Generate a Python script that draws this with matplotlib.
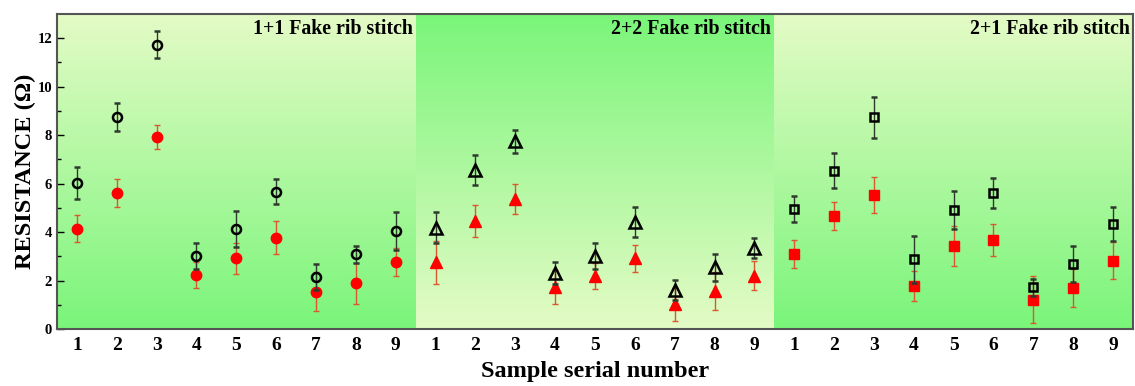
import numpy as np
import matplotlib
matplotlib.use("Agg")
import matplotlib.pyplot as plt
from matplotlib.colors import LinearSegmentedColormap

plt.rcParams["font.family"] = ["Liberation Serif", "DejaVu Serif"]
plt.rcParams["font.weight"] = "bold"

samples = [str(i) for i in range(1, 10)]
panel_names = ["1+1 Fake rib stitch", "2+2 Fake rib stitch", "2+1 Fake rib stitch"]

# black open markers (mean, error)
black_11 = [6.02, 8.76, 11.74, 3.00, 4.12, 5.66, 2.13, 3.08, 4.05]
black_11_err = [0.67, 0.58, 0.56, 0.54, 0.75, 0.52, 0.54, 0.36, 0.77]
black_22 = [4.18, 6.57, 7.75, 2.32, 3.01, 4.41, 1.61, 2.54, 3.35]
black_22_err = [0.63, 0.61, 0.48, 0.46, 0.54, 0.62, 0.41, 0.55, 0.41]
black_21 = [4.94, 6.54, 8.73, 2.87, 4.91, 5.61, 1.72, 2.67, 4.33]
black_21_err = [0.54, 0.73, 0.85, 0.97, 0.78, 0.62, 0.36, 0.74, 0.69]

# red filled markers (mean, error)
red_11 = [4.14, 5.61, 7.92, 2.23, 2.91, 3.77, 1.54, 1.88, 2.75]
red_11_err = [0.57, 0.56, 0.49, 0.55, 0.64, 0.67, 0.80, 0.85, 0.58]
red_22 = [2.75, 4.47, 5.36, 1.73, 2.19, 2.91, 1.02, 1.57, 2.19]
red_22_err = [0.90, 0.66, 0.63, 0.70, 0.53, 0.57, 0.69, 0.79, 0.60]
red_21 = [3.11, 4.65, 5.54, 1.77, 3.44, 3.66, 1.21, 1.69, 2.82]
red_21_err = [0.58, 0.58, 0.75, 0.63, 0.82, 0.66, 0.98, 0.78, 0.77]

blacks = [(black_11, black_11_err), (black_22, black_22_err), (black_21, black_21_err)]
reds = [(red_11, red_11_err), (red_22, red_22_err), (red_21, red_21_err)]
markers = ["o", "^", "s"]
msizes = [6.5, 8, 6.2]

light = "#e4fbc6"
green = "#7af57a"
ymax = 13

fig = plt.figure(figsize=(11.35, 3.86), dpi=100)
ax = fig.add_axes([0.0502, 0.1477, 0.9480, 0.8160])

n = len(samples)
for p in range(3):
    x0 = p * n + 0.5
    x1 = x0 + n
    if p == 1:
        cmap = LinearSegmentedColormap.from_list("g", [green, light])
    else:
        cmap = LinearSegmentedColormap.from_list("g", [light, green])
    grad = np.linspace(0, 1, 256).reshape(-1, 1)
    ax.imshow(grad, cmap=cmap, extent=(x0, x1, 0, ymax), aspect="auto",
              origin="upper", zorder=0)

    xs = np.arange(1, n + 1) + p * n
    rv, re = reds[p]
    ax.errorbar(xs, rv, yerr=re, fmt=markers[p], color="#ff0000",
                ecolor="#d9582e", elinewidth=1.0, capsize=2.5, capthick=1.0,
                markersize=msizes[p] + 1, markeredgecolor="#ff0000", zorder=3)
    bv, be = blacks[p]
    ax.errorbar(xs, bv, yerr=be, fmt=markers[p], color="black",
                ecolor="#2f3a2f", elinewidth=1.0, capsize=2.5, capthick=1.0,
                markersize=msizes[p], markerfacecolor="none",
                markeredgecolor="black", markeredgewidth=1.8, zorder=4)

    ax.text(x1 - 0.08, ymax - 0.22, panel_names[p], ha="right", va="top",
            fontsize=14.3, fontweight="bold", zorder=5)

ax.set_xlim(0.5, 3 * n + 0.5)
ax.set_ylim(0, ymax)
ax.set_xticks(np.arange(1, 3 * n + 1))
ax.set_xticklabels(samples * 3, fontsize=14, fontweight="bold")
ax.tick_params(axis="x", length=0, pad=6)
ax.set_yticks(np.arange(0, 13, 2))
ax.set_yticks(np.arange(1, 13, 2), minor=True)
ax.tick_params(axis="y", which="major", direction="in", length=5, labelsize=10.5, width=1)
ax.tick_params(axis="y", which="minor", direction="in", length=3, width=1)
for t in ax.get_yticklabels():
    t.set_fontweight("bold")

for s in ax.spines.values():
    s.set_color("#555555")
    s.set_linewidth(1.5)

ax.set_xlabel("Sample serial number", fontsize=17.5, fontweight="bold", labelpad=5)
ax.set_ylabel("RESISTANCE (\u03a9)", fontsize=17.5, fontweight="bold", labelpad=1)

fig.savefig("out.png", dpi=100)
